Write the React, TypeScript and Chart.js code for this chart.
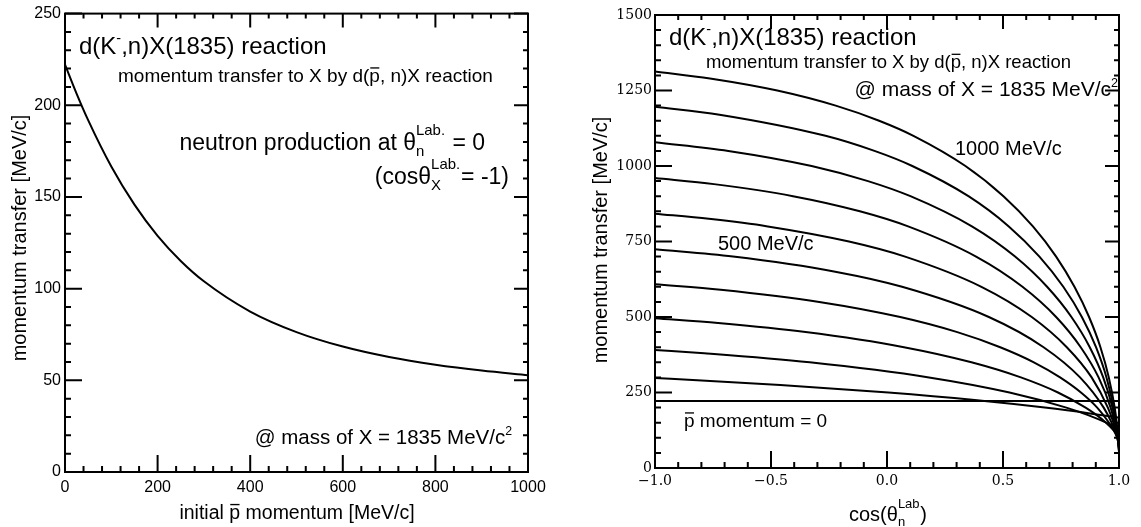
import React, { useEffect, useRef } from 'react';
import { Chart, registerables } from 'chart.js';

Chart.register(...registerables);

const SANS = '"Liberation Sans", Arial, Helvetica, sans-serif';
const SERIF = '"DejaVu Serif", "Liberation Serif", serif';

// ---------- Left panel: neutron at 0 deg (X backward) ----------
const initialMomentum = [0, 25, 50, 100, 150, 200, 250, 300, 400, 500, 600, 700, 800, 900, 1000];
const forwardTransfer = [222.2, 206.4, 191.9, 166.6, 145.8, 128.8, 115.1, 104.0, 87.5, 76.3, 68.4, 62.7, 58.5, 55.3, 52.8];
const leftXTicks = [0, 200, 400, 600, 800, 1000];
const leftYTicks = [0, 50, 100, 150, 200, 250];

// ---------- Right panel: [cos(theta_n Lab), momentum transfer] per pbar momentum ----------
const p0 = [[-1, 222.2], [1, 222.2]];
const p100 = [[-1, 297.9], [-0.799, 290], [-0.46, 275], [0.006, 250], [0.378, 225], [0.68, 200], [0.882, 180], [0.971, 170], [1, 166.6]];
const p200 = [[-1, 391.0], [-0.788, 380], [-0.333, 350], [0.181, 300], [0.528, 250], [0.773, 200], [0.867, 175], [0.945, 150], [0.985, 135], [1, 128.8]];
const p300 = [[-1, 496.1], [-0.728, 480], [-0.351, 450], [0.073, 400], [0.364, 350], [0.577, 300], [0.737, 250], [0.856, 200], [0.904, 175], [0.944, 150], [0.977, 125], [0.994, 110], [1, 104.0]];
const p400 = [[-1, 608.3], [-0.717, 590], [-0.292, 550], [0.057, 500], [0.303, 450], [0.488, 400], [0.633, 350], [0.746, 300], [0.836, 250], [0.906, 200], [0.957, 150], [0.977, 125], [0.9934, 100], [1, 87.5]];
const p500 = [[-1, 724.4], [-0.664, 700], [-0.223, 650], [0.065, 600], [0.439, 500], [0.675, 400], [0.832, 300], [0.934, 200], [0.968, 150], [0.9921, 100], [1, 76.3]];
const p600 = [[-1, 842.2], [-0.768, 825], [-0.514, 800], [-0.164, 750], [0.078, 700], [0.407, 600], [0.624, 500], [0.775, 400], [0.882, 300], [0.952, 200], [0.976, 150], [0.9929, 100], [1, 68.4]];
const p700 = [[-1, 960.5], [-0.746, 940], [-0.405, 900], [-0.117, 850], [0.091, 800], [0.384, 700], [0.584, 600], [0.729, 500], [0.835, 400], [0.912, 300], [0.9639, 200], [0.9815, 150], [0.994, 100], [1, 62.7]];
const p800 = [[-1, 1078.7], [-0.684, 1050], [-0.325, 1000], [-0.082, 950], [0.101, 900], [0.366, 800], [0.552, 700], [0.69, 600], [0.795, 500], [0.874, 400], [0.932, 300], [0.9718, 200], [0.9854, 150], [0.995, 100], [1, 58.5]];
const p900 = [[-1, 1196.4], [-0.722, 1170], [-0.265, 1100], [-0.054, 1050], [0.109, 1000], [0.351, 900], [0.525, 800], [0.657, 700], [0.76, 600], [0.84, 500], [0.901, 400], [0.946, 300], [0.977, 200], [0.988, 150], [0.9958, 100], [1, 55.3]];
const p1000 = [[-1, 1313.2], [-0.763, 1290], [-0.473, 1250], [-0.221, 1200], [-0.034, 1150], [0.114, 1100], [0.338, 1000], [0.502, 900], [0.629, 800], [0.729, 700], [0.808, 600], [0.871, 500], [0.92, 400], [0.956, 300], [0.9815, 200], [0.9902, 150], [0.9964, 100], [1, 52.8]];
const rightSeries = [p0, p100, p200, p300, p400, p500, p600, p700, p800, p900, p1000];
const rightXTicks = [-1, -0.5, 0, 0.5, 1];
const rightYTicks = [0, 250, 500, 750, 1000, 1250, 1500];

type Seg = { t?: string; sc?: number; dy?: number; over?: boolean; sub?: string; sup?: string };

function segWidth(ctx: CanvasRenderingContext2D, s: Seg, size: number) {
  if (s.sub !== undefined || s.sup !== undefined) {
    ctx.font = `${size * 0.65}px ${SANS}`;
    return Math.max(ctx.measureText(s.sub ?? '').width, ctx.measureText(s.sup ?? '').width) + size * 0.04;
  }
  ctx.font = `${size * (s.sc ?? 1)}px ${SANS}`;
  return ctx.measureText(s.t ?? '').width;
}

function drawRich(ctx: CanvasRenderingContext2D, segs: Seg[], x: number, y: number, size: number, align: 'left' | 'right' | 'center') {
  const widths = segs.map((s) => segWidth(ctx, s, size));
  const total = widths.reduce((a, b) => a + b, 0);
  let cx = align === 'left' ? x : align === 'right' ? x - total : x - total / 2;
  ctx.textAlign = 'left';
  ctx.textBaseline = 'alphabetic';
  ctx.fillStyle = '#000';
  segs.forEach((s, i) => {
    if (s.sub !== undefined || s.sup !== undefined) {
      ctx.font = `${size * 0.65}px ${SANS}`;
      if (s.sup) ctx.fillText(s.sup, cx, y - size * 0.66);
      if (s.sub) ctx.fillText(s.sub, cx, y + size * 0.26);
    } else {
      ctx.font = `${size * (s.sc ?? 1)}px ${SANS}`;
      ctx.fillText(s.t ?? '', cx, y + (s.dy ?? 0) * size);
      if (s.over) {
        ctx.save();
        ctx.strokeStyle = '#000';
        ctx.lineWidth = Math.max(1, size * 0.07);
        ctx.beginPath();
        ctx.moveTo(cx + size * 0.05, y - size * 0.74);
        ctx.lineTo(cx + widths[i] - size * 0.03, y - size * 0.74);
        ctx.stroke();
        ctx.restore();
      }
    }
    cx += widths[i];
  });
}

function drawRotated(ctx: CanvasRenderingContext2D, segs: Seg[], cx: number, cy: number, size: number) {
  ctx.save();
  ctx.translate(cx, cy);
  ctx.rotate(-Math.PI / 2);
  drawRich(ctx, segs, 0, size * 0.33, size, 'center');
  ctx.restore();
}

function framePlugin(xTicks: number[], yTicks: number[], sub: number, extra: (ctx: CanvasRenderingContext2D) => void) {
  return {
    id: 'rootFrame',
    afterDraw(chart: any) {
      const { ctx, chartArea: a } = chart;
      const xs = chart.scales.x;
      const ys = chart.scales.y;
      ctx.save();
      ctx.strokeStyle = '#000';
      ctx.lineWidth = 2;
      ctx.lineCap = 'butt';
      const dx = (xTicks[1] - xTicks[0]) / sub;
      for (let i = 0; i <= (xTicks.length - 1) * sub; i++) {
        const v = xTicks[0] + i * dx;
        const major = i % sub === 0;
        const px = xs.getPixelForValue(v);
        ctx.beginPath();
        ctx.moveTo(px, a.bottom);
        ctx.lineTo(px, a.bottom - (major ? 17 : 6));
        ctx.moveTo(px, a.top);
        ctx.lineTo(px, a.top + (major ? 14 : 5));
        ctx.stroke();
      }
      const dy = (yTicks[1] - yTicks[0]) / sub;
      for (let i = 0; i <= (yTicks.length - 1) * sub; i++) {
        const v = yTicks[0] + i * dy;
        const major = i % sub === 0;
        const py = ys.getPixelForValue(v);
        ctx.beginPath();
        ctx.moveTo(a.left, py);
        ctx.lineTo(a.left + (major ? 17 : 6), py);
        ctx.moveTo(a.right, py);
        ctx.lineTo(a.right - (major ? 14 : 5), py);
        ctx.stroke();
      }
      ctx.strokeRect(a.left, a.top, a.right - a.left, a.bottom - a.top);
      extra(ctx);
      ctx.restore();
    },
  };
}

function leftTexts(ctx: CanvasRenderingContext2D) {
  drawRich(ctx, [{ t: 'd(K' }, { t: '-', sc: 0.6, dy: -0.45 }, { t: ',n)X(1835) reaction' }], 79, 54, 24, 'left');
  drawRich(ctx, [{ t: 'momentum transfer to X by d(' }, { t: 'p', over: true }, { t: ', n)X reaction' }], 118, 82, 19, 'left');
  drawRich(ctx, [{ t: 'neutron production at θ' }, { sub: 'n', sup: 'Lab.' }, { t: ' = 0' }], 485, 150, 23, 'right');
  drawRich(ctx, [{ t: '(cosθ' }, { sub: 'X', sup: 'Lab.' }, { t: '= -1)' }], 509, 184, 23, 'right');
  drawRich(ctx, [{ t: '@ mass of X = 1835 MeV/c' }, { t: '2', sc: 0.6, dy: -0.42 }], 512, 444, 20.5, 'right');
  drawRich(ctx, [{ t: 'initial ' }, { t: 'p', over: true }, { t: ' momentum [MeV/c]' }], 297, 519, 19.5, 'center');
  drawRotated(ctx, [{ t: 'momentum transfer [MeV/c]' }], 19, 238, 20);
}

function rightTexts(ctx: CanvasRenderingContext2D) {
  drawRich(ctx, [{ t: 'd(K' }, { t: '-', sc: 0.6, dy: -0.45 }, { t: ',n)X(1835) reaction' }], 99, 45, 24, 'left');
  drawRich(ctx, [{ t: 'momentum transfer to X by d(' }, { t: 'p', over: true }, { t: ', n)X reaction' }], 136, 68, 18.5, 'left');
  drawRich(ctx, [{ t: '@ mass of X = 1835 MeV/c' }, { t: '2', sc: 0.6, dy: -0.42 }], 548, 96, 21, 'right');
  drawRich(ctx, [{ t: '1000 MeV/c' }], 385, 155, 20, 'left');
  drawRich(ctx, [{ t: '500 MeV/c' }], 148, 250, 20, 'left');
  drawRich(ctx, [{ t: 'p', over: true }, { t: ' momentum = 0' }], 114, 427, 19, 'left');
  drawRich(ctx, [{ t: 'cos(θ' }, { sub: 'n', sup: 'Lab' }, { t: ')' }], 318, 521, 20, 'center');
  drawRotated(ctx, [{ t: 'momentum transfer [MeV/c]' }], 30, 240, 20);
}

function axis(ticks: number[], font: any, padding: number, fmt: (v: number) => string, fit: (s: any) => void) {
  return {
    type: 'linear' as const,
    min: ticks[0],
    max: ticks[ticks.length - 1],
    ticks: {
      stepSize: ticks[1] - ticks[0],
      font,
      color: '#000',
      padding,
      maxRotation: 0,
      autoSkip: false,
      callback: (v: any) => fmt(Number(v)),
    },
    grid: { display: false, drawTicks: false },
    border: { display: false },
    afterFit: fit,
  };
}

export default function App() {
  const leftRef = useRef<HTMLCanvasElement>(null);
  const rightRef = useRef<HTMLCanvasElement>(null);

  useEffect(() => {
    document.body.style.margin = '0';
    const left = new Chart(leftRef.current as HTMLCanvasElement, {
      type: 'line',
      data: {
        datasets: [
          {
            data: initialMomentum.map((x, i) => ({ x, y: forwardTransfer[i] })),
            borderColor: '#000',
            borderWidth: 2,
            pointRadius: 0,
            cubicInterpolationMode: 'monotone',
            fill: false,
          },
        ],
      },
      options: {
        animation: false,
        responsive: true,
        maintainAspectRatio: false,
        devicePixelRatio: 1,
        events: [],
        layout: { padding: { left: 0, top: 11, right: 42, bottom: 0 } },
        plugins: { legend: { display: false }, tooltip: { enabled: false }, title: { display: false } },
        scales: {
          x: axis(leftXTicks, { family: SANS, size: 16 }, 6, (v) => String(v), (s: any) => { s.height = 55; }),
          y: axis(leftYTicks, { family: SANS, size: 16 }, 4, (v) => String(v), (s: any) => { s.width = 65; }),
        },
      },
      plugins: [framePlugin(leftXTicks, leftYTicks, 5, leftTexts)],
    } as any);

    const right = new Chart(rightRef.current as HTMLCanvasElement, {
      type: 'line',
      data: {
        datasets: rightSeries.map((series) => ({
          data: series.map(([x, y]) => ({ x, y })),
          borderColor: '#000',
          borderWidth: 2,
          pointRadius: 0,
          cubicInterpolationMode: 'monotone',
          fill: false,
        })),
      },
      options: {
        animation: false,
        responsive: true,
        maintainAspectRatio: false,
        devicePixelRatio: 1,
        events: [],
        layout: { padding: { left: 0, top: 15, right: 22, bottom: 0 } },
        plugins: { legend: { display: false }, tooltip: { enabled: false }, title: { display: false } },
        scales: {
          x: axis(rightXTicks, { family: SERIF, size: 14 }, 5, (v) => (v < 0 ? '\u2212' : '') + Math.abs(v).toFixed(1), (s: any) => { s.height = 59; }),
          y: axis(rightYTicks, { family: SERIF, size: 14 }, 3, (v) => String(v), (s: any) => { s.width = 85; }),
        },
      },
      plugins: [framePlugin(rightXTicks, rightYTicks, 5, rightTexts)],
    } as any);

    return () => {
      left.destroy();
      right.destroy();
    };
  }, []);

  return (
    <div style={{ position: 'fixed', left: 0, top: 0, width: 1141, height: 527, background: '#fff' }}>
      <div style={{ position: 'absolute', left: 0, top: 0, width: 570, height: 527 }}>
        <canvas ref={leftRef} />
      </div>
      <div style={{ position: 'absolute', left: 570, top: 0, width: 571, height: 527 }}>
        <canvas ref={rightRef} />
      </div>
    </div>
  );
}
